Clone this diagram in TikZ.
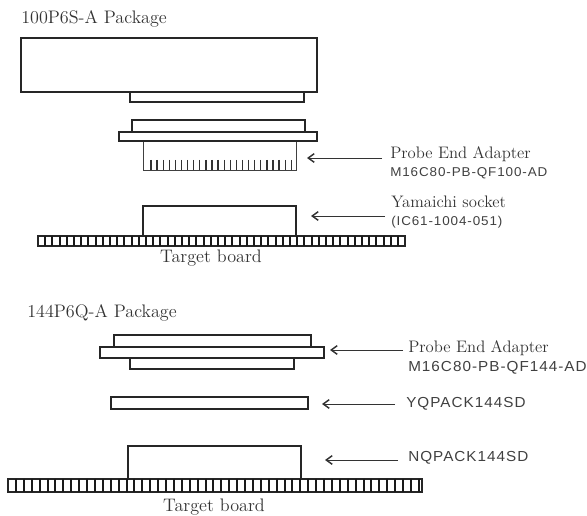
\documentclass[tikz,border=0pt]{standalone}
\usepackage{fontspec}
\setsansfont[FakeStretch=1.05,LetterSpace=7]{Liberation Sans}
\usepackage{tikz}
\usetikzlibrary{arrows.meta,positioning}

\tikzset{
  part/.style={draw=black!85,line width=1.1pt},
  thinpart/.style={draw=black!75,line width=0.7pt},
  cell/.style={draw=black!90,line width=1.5pt},
  tooth/.style={draw=black!80,line width=1pt},
  pointer/.style={draw=black!80,line width=0.7pt,-{Straight Barb[length=4.5pt,width=6.5pt,line width=1.1pt]}},
  title/.style={anchor=base west,inner sep=0pt,font=\fontsize{13.6}{15}\selectfont,text=black!80},
  label/.style={anchor=base west,inner sep=0pt,font=\fontsize{12.5}{14}\selectfont,text=black!80},
  partno/.style={anchor=base west,inner sep=0pt,font=\sffamily\fontsize{10.9}{12}\selectfont,text=black!75},
  partnosmall/.style={partno,font=\sffamily\fontsize{9.6}{11}\selectfont},
}

\begin{document}
\begin{tikzpicture}[x=0.75pt,y=-0.75pt]
  \useasboundingbox (0,0) rectangle (587,516);

  %upper stack
  \node[title] (title1) at (21,23.5) {100P6S-A Package};
  \draw[part] (21,38) rectangle (317,92);
  \draw[part] (130,92) rectangle (304,102);
  \draw[part] (132,120) rectangle (305,132);
  \draw[part] (119,132) rectangle (317,141);
  \draw[thinpart] (143,142) -- (143,170) -- (296,170) -- (296,142);
  \foreach \i in {0,...,23}
    \draw[tooth] ({151+6.1*\i},160) -- ({151+6.1*\i},170);
  \draw[part] (143,235) -- (143,206) -- (296,206) -- (296,235);
  \draw[part] (38,236) rectangle (405,246);
  \foreach \i in {1,...,50}
    \draw[cell] ({38+7.2*\i},236) -- ({38+7.2*\i},246);
  \node[title,anchor=base] (board1) at (211,263) {Target board};

  \node[label] (probe1) at (390,159) {Probe End Adapter};
  \node[partnosmall] (probeno1) at (390,177) {M16C80-PB-QF100-AD};
  \node[label] (socket) at (391,208) {Yamaichi socket};
  \node[partnosmall] (socketno) at (391,226) {(IC61-1004-051)};
  \coordinate (probe1a) at (382,158);
  \coordinate (probe1b) at (307,158);
  \coordinate (socketa) at (385,216);
  \coordinate (socketb) at (311,216);
  \draw[pointer] (probe1a) -- (probe1b);
  \draw[pointer] (socketa) -- (socketb);

  %lower stack
  \node[title] (title2) at (27,318) {144P6Q-A Package};
  \draw[part] (114,335) rectangle (311,347);
  \draw[part] (100,347) rectangle (324,358);
  \draw[part] (130,358) rectangle (294,369);
  \draw[part] (111,397) rectangle (308,409);
  \draw[part] (128,479) -- (128,446) -- (301,446) -- (301,479);
  \draw[part,line width=1.4pt] (8,479) rectangle (422,492);
  \foreach \i in {1,...,52}
    \draw[cell] ({8+7.9*\i},479) -- ({8+7.9*\i},492);
  \node[title,anchor=base] (board2) at (214,512) {Target board};

  \node[label] (probe2) at (408,353) {Probe End Adapter};
  \node[partno] (probeno2) at (408,372) {M16C80-PB-QF144-AD};
  \node[partno] (yq) at (406,408) {YQPACK144SD};
  \node[partno] (nq) at (408,462) {NQPACK144SD};
  \coordinate (probe2a) at (403,350);
  \coordinate (probe2b) at (330,350);
  \coordinate (yqa) at (395,404);
  \coordinate (yqb) at (322,404);
  \coordinate (nqa) at (398,460);
  \coordinate (nqb) at (325,460);
  \draw[pointer] (probe2a) -- (probe2b);
  \draw[pointer] (yqa) -- (yqb);
  \draw[pointer] (nqa) -- (nqb);
\end{tikzpicture}
\end{document}
